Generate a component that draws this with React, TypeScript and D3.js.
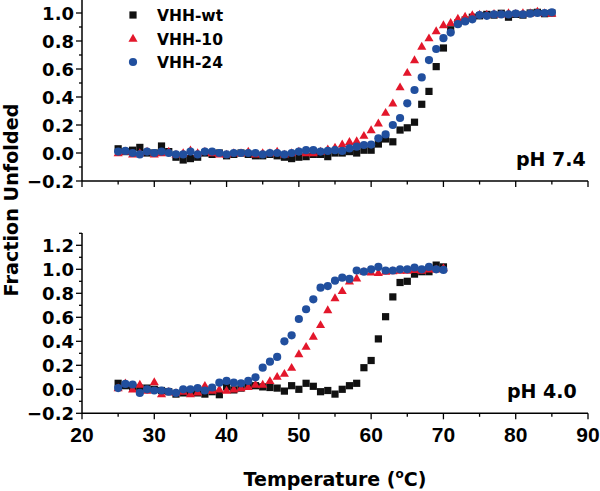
import React from "react";
import * as d3 from "d3";

// ---------- data ----------
const topTemps: number[] = d3.range(25, 86);
const topWt: number[] = [
  0.03, 0.01, 0.02, 0.04, 0.0, 0.0, 0.05, 0.01, -0.03, -0.05,
  -0.04, -0.03, 0.0, -0.01, 0.0, -0.02, -0.01, 0.0, -0.01, -0.02,
  -0.02, -0.01, -0.02, -0.03, -0.04, -0.03, -0.026, -0.01, -0.01, -0.026,
  0.0, 0.0, 0.01, 0.0, 0.02, 0.02, 0.064, 0.1, 0.08, 0.164,
  0.18, 0.22, 0.348, 0.44, 0.617, 0.75, 0.88, 0.93, 0.95, 0.97,
  0.98, 0.99, 0.985, 0.998, 0.97, 0.99, 0.985, 1.0, 1.005, 0.995, 1.0,
];
const top10: number[] = [
  0.0, 0.01, -0.01, 0.0, 0.01, -0.01, 0.0, 0.01, -0.01, 0.0,
  0.02, 0.0, 0.01, 0.0, -0.01, -0.01, 0.0, 0.0, 0.01, -0.01,
  0.0, 0.0, 0.01, -0.01, 0.0, 0.01, 0.0, 0.0, 0.01, 0.027,
  0.04, 0.062, 0.08, 0.085, 0.124, 0.164, 0.212, 0.288, 0.355, 0.47,
  0.574, 0.664, 0.76, 0.82, 0.871, 0.914, 0.93, 0.96, 0.975, 0.985,
  0.99, 0.99, 0.995, 0.99, 1.0, 0.995, 1.0, 1.0, 1.01, 1.0, 0.995,
];
const top24: number[] = [
  0.01, 0.015, 0.0, -0.01, 0.01, 0.0, 0.01, 0.0, -0.01, -0.01,
  0.01, -0.01, 0.01, 0.01, 0.0, -0.01, 0.0, 0.0, 0.0, 0.0,
  -0.01, 0.0, 0.0, -0.01, 0.0, 0.01, 0.02, 0.02, 0.01, 0.015,
  0.02, 0.015, 0.033, 0.045, 0.057, 0.06, 0.105, 0.133, 0.2, 0.25,
  0.355, 0.45, 0.54, 0.664, 0.743, 0.82, 0.86, 0.92, 0.94, 0.955,
  0.985, 0.98, 0.99, 0.99, 0.99, 0.995, 0.99, 0.995, 1.0, 1.0, 1.005,
];

const botTemps: number[] = d3.range(25, 71);
const botWt: number[] = [
  0.05, 0.03, 0.02, 0.01, 0.01, 0.0, -0.01, -0.02, -0.04, -0.03,
  -0.02, -0.03, -0.04, -0.02, -0.045, 0.02, -0.005, 0.01, 0.04, 0.03,
  0.02, 0.015, 0.01, -0.015, 0.03, 0.0, 0.05, 0.025, -0.02, -0.01,
  -0.04, 0.0, 0.03, 0.05, 0.18, 0.24, 0.42, 0.605, 0.77, 0.89,
  0.9, 0.96, 0.98, 0.98, 1.035, 1.02,
];
const bot10: number[] = [
  0.01, 0.05, 0.0, 0.04, -0.01, 0.06, -0.04, -0.02, -0.03, -0.02,
  -0.04, -0.025, 0.03, -0.01, 0.0, -0.01, 0.0, 0.01, 0.02, 0.04,
  0.04, 0.07, 0.105, 0.13, 0.18, 0.294, 0.355, 0.44, 0.536, 0.66,
  0.76, 0.82, 0.9, 0.925, 0.98, 0.975, 0.97, 0.98, 0.985, 0.99,
  0.99, 0.995, 0.99, 1.0, 1.0, 1.01,
];
const bot24: number[] = [
  0.01, 0.045, 0.04, -0.03, 0.0, -0.01, -0.01, -0.02, -0.03, 0.0,
  0.0, 0.01, -0.01, 0.015, 0.055, 0.07, 0.055, 0.05, 0.07, 0.1,
  0.18, 0.23, 0.27, 0.4, 0.45, 0.586, 0.667, 0.75, 0.847, 0.86,
  0.905, 0.93, 0.92, 0.99, 0.98, 1.0, 1.02, 0.99, 0.99, 1.0,
  1.0, 1.015, 1.0, 1.02, 1.0, 0.995,
];

const seriesNames: string[] = ["VHH-wt", "VHH-10", "VHH-24"];
const seriesColors: string[] = ["#111111", "#e3172b", "#214f9e"];
const xTicks: number[] = [20, 30, 40, 50, 60, 70, 80, 90];
const topYTicks: number[] = [-0.2, 0, 0.2, 0.4, 0.6, 0.8, 1.0];
const botYTicks: number[] = [-0.2, 0, 0.2, 0.4, 0.6, 0.8, 1.0, 1.2];

const FONT = "'DejaVu Sans', sans-serif";
const FONT_X = "'Liberation Sans', Arial, sans-serif";

const x = d3.scaleLinear().domain([20, 90]).range([82, 588]);

function Marker({ kind, cx, cy, color }: { kind: number; cx: number; cy: number; color: string }) {
  if (kind === 0) {
    return <rect x={cx - 3.6} y={cy - 3.6} width={7.2} height={7.2} fill={color} />;
  }
  if (kind === 1) {
    const sym = d3.symbol().type(d3.symbolTriangle).size(36)();
    return <path d={sym as string} transform={`translate(${cx},${cy + 0.5})`} fill={color} />;
  }
  return <circle cx={cx} cy={cy} r={4.1} fill={color} />;
}

function Panel({
  y, yTop, yTicks, temps, data, label, labelX, labelY, showXLabels,
}: {
  y: d3.ScaleLinear<number, number>; yTop: number; yTicks: number[]; temps: number[];
  data: number[][]; label: string; labelX: number; labelY: number; showXLabels: boolean;
}) {
  const [d0, d1] = y.domain();
  const yMinor = d3.range(Math.round(d0 * 10), Math.round(d1 * 10) + 2).map((v) => v / 10)
    .filter((v) => y(v) >= yTop - 0.5);
  const xMinor = d3.range(20, 91, 5);
  const y0 = y(d0);
  return (
    <g>
      {data.map((vals, si) => (
        <g key={si}>
          {vals.map((v, i) => (
            <Marker key={i} kind={si} cx={x(temps[i])} cy={y(v)} color={seriesColors[si]} />
          ))}
        </g>
      ))}
      <line x1={82} x2={82} y1={yTop} y2={y0} stroke="#000" strokeWidth={1.5} />
      <line x1={82} x2={588} y1={y0} y2={y0} stroke="#000" strokeWidth={1.5} />
      {yMinor.map((v) => {
        const major = yTicks.some((t) => Math.abs(t - v) < 1e-6);
        return (
          <line key={"ym" + v} x1={82} x2={major ? 76 : 79} y1={y(v)} y2={y(v)} stroke="#000" strokeWidth={1.3} />
        );
      })}
      {xMinor.map((v) => {
        const major = v % 10 === 0;
        return (
          <line key={"xm" + v} x1={x(v)} x2={x(v)} y1={y0} y2={y0 + (major ? 6 : 3.5)} stroke="#000" strokeWidth={1.3} />
        );
      })}
      {yTicks.map((t) => (
        <text key={"yl" + t} x={74} y={y(t) + 6.5} textAnchor="end" fontFamily={FONT} fontWeight="bold" fontSize={18}>
          {d3.format(".1f")(t)}
        </text>
      ))}
      {showXLabels &&
        xTicks.map((t) => (
          <text key={"xl" + t} x={x(t)} y={y0 + 29} textAnchor="middle" fontFamily={FONT_X} fontWeight="bold" fontSize={21}>
            {t}
          </text>
        ))}
      <text x={labelX} y={labelY} fontFamily={FONT} fontWeight="bold" fontSize={19}>
        {label}
      </text>
    </g>
  );
}

export default function App() {
  const yTopScale = d3.scaleLinear().domain([-0.2, 1.0]).range([181, 13]);
  const yBotScale = d3.scaleLinear().domain([-0.2, 1.2]).range([413.3, 245.3]);
  return (
    <svg width={600} height={491} style={{ position: "absolute", left: 0, top: 0, background: "#fff" }}>
      <rect width={600} height={491} fill="#fff" />
      <Panel y={yTopScale} yTop={0} yTicks={topYTicks} temps={topTemps} data={[topWt, top10, top24]}
        label="pH 7.4" labelX={516} labelY={166} showXLabels={false} />
      <Panel y={yBotScale} yTop={233} yTicks={botYTicks} temps={botTemps} data={[botWt, bot10, bot24]}
        label="pH 4.0" labelX={507} labelY={398} showXLabels={true} />
      {seriesNames.map((n, i) => (
        <g key={n}>
          <Marker kind={i} cx={133} cy={15 + i * 23.5} color={seriesColors[i]} />
          <text x={157} y={21 + i * 23.5} fontFamily={FONT} fontWeight="bold" fontSize={15.5}>{n}</text>
        </g>
      ))}
      <text transform="translate(18,200) rotate(-90)" textAnchor="middle" fontFamily={FONT} fontWeight="bold" fontSize={19.2}>
        Fraction Unfolded
      </text>
      <text x={335} y={486} textAnchor="middle" fontFamily={FONT} fontWeight="bold" fontSize={19}>
        Temperature (<tspan fontSize={12} dy={-8}>o</tspan><tspan dy={8}>C)</tspan>
      </text>
    </svg>
  );
}
